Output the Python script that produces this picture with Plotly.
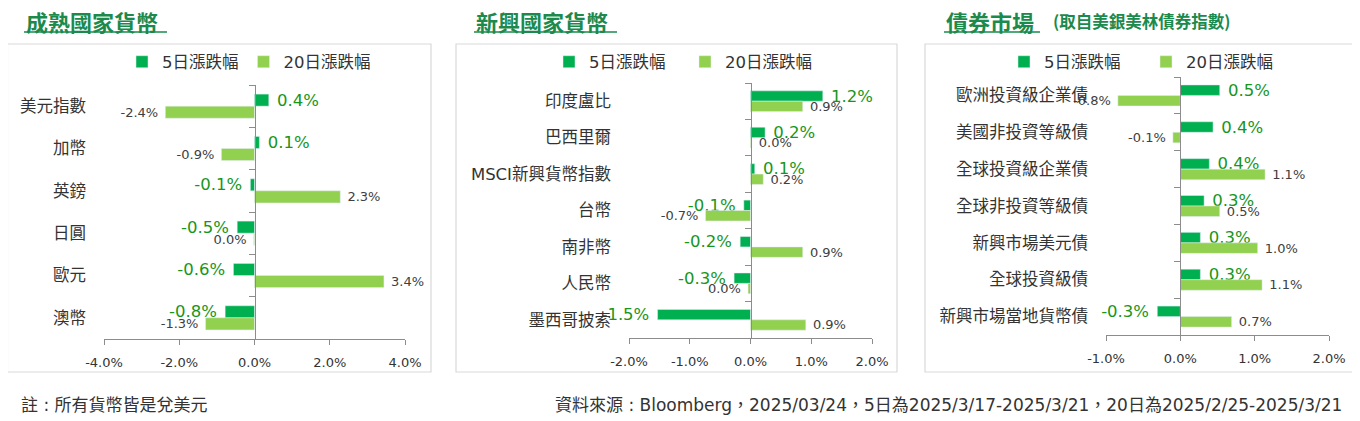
import plotly.graph_objects as go

# canvas size (px); the page body adds an 8px offset, compensated in px()/py()
W, H = 1360, 421
OX, OY = 8, 8

# ---- data ----
# 成熟國家貨幣
cats_dev = ["美元指數", "加幣", "英鎊", "日圓", "歐元", "澳幣"]
d5_dev = [0.38, 0.13, -0.11, -0.46, -0.56, -0.78]
d20_dev = [-2.37, -0.88, 2.28, -0.02, 3.44, -1.30]
xticks_dev = [-4, -2, 0, 2, 4]

# 新興國家貨幣
cats_em = ["印度盧比", "巴西里爾", "MSCI新興貨幣指數", "台幣", "南非幣", "人民幣", "墨西哥披索"]
d5_em = [1.19, 0.24, 0.07, -0.11, -0.17, -0.27, -1.53]
d20_em = [0.86, 0.02, 0.21, -0.74, 0.86, -0.04, 0.91]
xticks_em = [-2, -1, 0, 1, 2]

# 債券市場
cats_bond = ["歐洲投資級企業債", "美國非投資等級債", "全球投資級企業債", "全球非投資等級債",
             "新興市場美元債", "全球投資級債", "新興市場當地貨幣債"]
d5_bond = [0.53, 0.44, 0.39, 0.32, 0.27, 0.27, -0.31]
d20_bond = [-0.84, -0.10, 1.14, 0.53, 1.04, 1.10, 0.69]
xticks_bond = [-1, 0, 1, 2]

series_names = ["5日漲跌幅", "20日漲跌幅"]
titles = ["成熟國家貨幣", "新興國家貨幣", "債券市場"]

FONT = "DejaVu Sans, Noto Sans CJK TC, sans-serif"
CJK = "Noto Sans CJK TC, sans-serif"
C5 = "#00b050"
C20 = "#92d050"
LBL5 = "#17961c"
TXT = "#333333"
AXIS = "#8c8c8c"
TITLE_C = "#1b8a4c"
NBSP = "\u00a0"


def px(x):
    return (x - OX) / W


def py(y):
    return 1 - (y - OY) / H


def pct(v):
    return f"{v:.1f}%".replace("-0.0%", "0.0%")


def bar_labels(vals):
    # small pad between bar end and label, on the outer side of the bar
    return [NBSP + pct(v) if v >= 0 else pct(v) + NBSP for v in vals]


panels = [
    dict(cats=cats_dev, d5=d5_dev, d20=d20_dev, ticks=xticks_dev,
         plot=(104, 405, 85, 339), box=(7.5, 431, 44, 372),
         title_x=24, title_w=143, leg_x=139, leg_w=None),
    dict(cats=cats_em, d5=d5_em, d20=d20_em, ticks=xticks_em,
         plot=(629, 872, 83, 338), box=(456, 897, 44, 372),
         title_x=474, title_w=143, leg_x=566, leg_w=91),
    dict(cats=cats_bond, d5=d5_bond, d20=d20_bond, ticks=xticks_bond,
         plot=(1106, 1329, 77, 335), box=(925, 1355, 44, 372),
         title_x=944, title_w=96, leg_x=1021, leg_w=97),
]

fig = go.Figure()
shapes = []
annotations = []

for i, p in enumerate(panels):
    n = i + 1
    xa = "x" if n == 1 else f"x{n}"
    ya = "y" if n == 1 else f"y{n}"
    ya_tick = f"y{n + 3}"
    leg = "legend" if n == 1 else f"legend{n}"
    x0, x1, y0, y1 = p["plot"]
    xr = [p["ticks"][0], p["ticks"][-1]]

    fig.add_trace(go.Bar(
        y=p["cats"], x=p["d5"], orientation="h", name=series_names[0],
        marker_color=C5, text=bar_labels(p["d5"]), textposition="outside",
        textfont=dict(size=16.5, color=LBL5, family=FONT),
        constraintext="none", cliponaxis=False,
        xaxis=xa, yaxis=ya, legend=leg, hoverinfo="skip"))
    fig.add_trace(go.Bar(
        y=p["cats"], x=p["d20"], orientation="h", name=series_names[1],
        marker_color=C20, text=bar_labels(p["d20"]), textposition="outside",
        textfont=dict(size=13, color="#404040", family=FONT),
        constraintext="none", cliponaxis=False,
        xaxis=xa, yaxis=ya, legend=leg, hoverinfo="skip"))
    # invisible trace so the zero-crossing axis (with boundary ticks) is drawn
    fig.add_trace(go.Scatter(
        y=p["cats"], x=[0] * len(p["cats"]), mode="markers",
        marker=dict(opacity=0), xaxis=xa, yaxis=ya_tick,
        showlegend=False, hoverinfo="skip"))

    xdom = [px(x0), px(x1)]
    ydom = [py(y1), py(y0)]
    nc = len(p["cats"])
    zero_pos = xdom[0] + (0 - xr[0]) / (xr[1] - xr[0]) * (xdom[1] - xdom[0])

    leg_cfg = dict(
        orientation="h", x=px(p["leg_x"] - 17), xanchor="left",
        y=py(62), yanchor="middle", bgcolor="rgba(0,0,0,0)",
        font=dict(size=16.5, color=TXT, family=FONT),
        itemclick=False, itemdoubleclick=False)
    if p["leg_w"]:
        leg_cfg.update(entrywidth=p["leg_w"], entrywidthmode="pixels")

    fig.update_layout(**{
        ("xaxis" if n == 1 else f"xaxis{n}"): dict(
            domain=xdom, anchor=ya, range=xr,
            tickvals=p["ticks"], ticktext=[f"{t:.1f}%" for t in p["ticks"]],
            showgrid=False, zeroline=False,
            showline=True, linecolor=AXIS, ticks="outside", ticklen=5,
            tickcolor=AXIS, ticklabelstandoff=6, automargin=False,
            tickfont=dict(size=13, color=TXT, family=FONT)),
        ("yaxis" if n == 1 else f"yaxis{n}"): dict(
            domain=ydom, anchor=xa, type="category",
            categoryorder="array", categoryarray=p["cats"],
            range=[nc - 0.5, -0.5], showgrid=False, zeroline=False,
            showline=False, ticks="", ticklabelstandoff=17, automargin=False,
            tickfont=dict(size=16.5, color=TXT, family=FONT)),
        f"yaxis{n + 3}": dict(
            overlaying=ya, anchor="free", position=zero_pos, side="left",
            type="category", categoryorder="array", categoryarray=p["cats"],
            range=[nc - 0.5, -0.5], showgrid=False, zeroline=False,
            showline=True, linecolor=AXIS, ticks="outside", ticklen=6,
            tickcolor=AXIS, tickson="boundaries", showticklabels=False,
            automargin=False),
        leg: leg_cfg,
    })

    bx0, bx1, by0, by1 = p["box"]
    shapes.append(dict(type="rect", xref="paper", yref="paper",
                       x0=px(bx0), x1=px(bx1), y0=py(by1), y1=py(by0),
                       line=dict(color="#d9d9d9", width=1.2), layer="below"))
    annotations.append(dict(
        text=f"<b>{titles[i]}</b>", xref="paper", yref="paper",
        x=px(p["title_x"]), y=py(21.5), xanchor="left", yanchor="middle",
        showarrow=False, font=dict(size=22, color=TITLE_C, family=CJK)))
    shapes.append(dict(type="line", xref="paper", yref="paper",
                       x0=px(p["title_x"]), x1=px(p["title_x"] + p["title_w"]),
                       y0=py(32), y1=py(32),
                       line=dict(color=TITLE_C, width=1.6)))

annotations.append(dict(
    text="<b>(取自美銀美林債券指數)</b>", xref="paper", yref="paper",
    x=px(1051), y=py(21.5), xanchor="left", yanchor="middle", showarrow=False,
    font=dict(size=16.5, color=TITLE_C, family=CJK)))
annotations.append(dict(
    text="註 : 所有貨幣皆是兌美元", xref="paper", yref="paper",
    x=px(19), y=py(405), xanchor="left", yanchor="middle", showarrow=False,
    font=dict(size=17, color=TXT, family=FONT)))
annotations.append(dict(
    text="資料來源 : Bloomberg，2025/03/24，5日為2025/3/17-2025/3/21，20日為2025/2/25-2025/3/21",
    xref="paper", yref="paper", x=px(1344), y=py(405), xanchor="right",
    yanchor="middle", showarrow=False,
    font=dict(size=17, color=TXT, family=FONT)))

fig.update_layout(
    width=W, height=H,
    margin=dict(l=0, r=0, t=0, b=0, autoexpand=False),
    paper_bgcolor="white", plot_bgcolor="white",
    barmode="group", bargap=0.43, bargroupgap=0,
    font=dict(family=FONT, color=TXT),
    shapes=shapes, annotations=annotations,
    hovermode=False,
)

fig.write_html("out.html")
